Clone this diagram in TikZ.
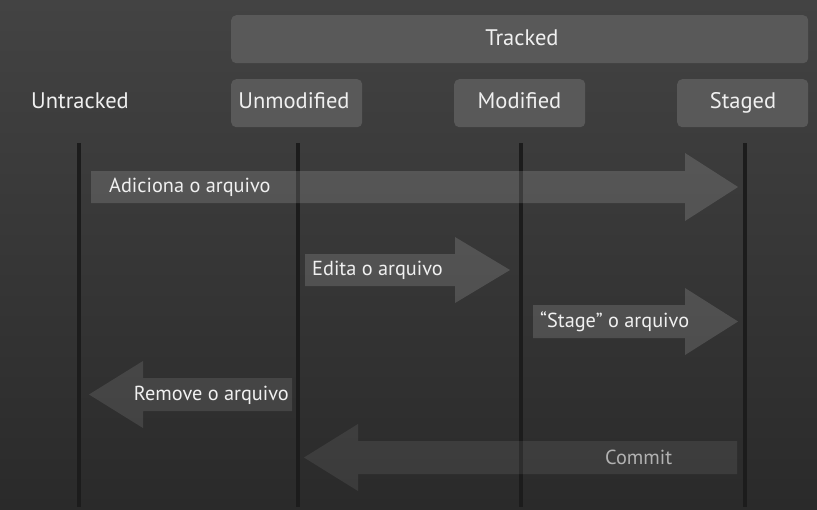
\documentclass[tikz,border=0pt]{standalone}
\usepackage{fontspec}
\setmainfont{PT Sans}
\begin{document}
\begin{tikzpicture}[x=1pt,y=-1pt,
  label/.style={text=white!94!black,font=\fontsize{22.5}{26}\selectfont,inner sep=0pt},
  arrowlabel/.style={label,font=\fontsize{20.3}{24}\selectfont},
  statebox/.style={fill=boxgray,rounded corners=5pt,minimum height=48pt,inner sep=0pt},
  lifeline/.style={draw=lineblack,line width=4pt},
  blockarrow/.style={fill=white,draw=none}]
\definecolor{bgtop}{HTML}{434343}
\definecolor{bgbottom}{HTML}{2A2A2A}
\definecolor{boxgray}{HTML}{595959}
\definecolor{lineblack}{HTML}{1C1C1C}
% background
\shade[top color=bgtop,bottom color=bgbottom] (0,0) rectangle (817,509);
\useasboundingbox (0,0) rectangle (817,509);

% state boxes
\node[statebox,minimum width=577pt,anchor=north west] (tracked) at (231,15) {};
\node[label,anchor=base] (trackedlbl) at (522,45) {Tracked};
\node[statebox,minimum width=131pt,anchor=north west] (unmod) at (231,79) {};
\node[statebox,minimum width=131pt,anchor=north west] (mod) at (454,79) {};
\node[statebox,minimum width=131pt,anchor=north west] (staged) at (677,79) {};
\node[label,anchor=base] (untrackedlbl) at (80,108.5) {Untracked};
\node[label,anchor=base] (unmodlbl) at (294,108.5) {Unmodified};
\node[label,anchor=base] (modlbl) at (519.5,108.5) {Modified};
\node[label,anchor=base] (stagedlbl) at (743,108.5) {Staged};

% lifelines
\coordinate (u0) at (79,143);  \coordinate (u1) at (79,507);
\coordinate (n0) at (298,143); \coordinate (n1) at (298,507);
\coordinate (m0) at (521,143); \coordinate (m1) at (521,507);
\coordinate (s0) at (745,143); \coordinate (s1) at (745,507);
\draw[lifeline] (u0) -- (u1);
\draw[lifeline] (n0) -- (n1);
\draw[lifeline] (m0) -- (m1);
\draw[lifeline] (s0) -- (s1);

% transition arrows
\fill[blockarrow,fill opacity=0.14] (91,171)--(685,171)--(685,153)--(738,187)--(685,221)--(685,203)--(91,203)--cycle;
\node[arrowlabel,anchor=base west] (add) at (109,192.5) {Adiciona o arquivo};

\fill[blockarrow,fill opacity=0.14] (305,254)--(455,254)--(455,237)--(510,270)--(455,303)--(455,286)--(305,286)--cycle;
\node[arrowlabel,anchor=base west] (edit) at (312,275.5) {Edita o arquivo};

\fill[blockarrow,fill opacity=0.14] (533,305)--(685,305)--(685,288)--(738,321.5)--(685,355)--(685,338)--(533,338)--cycle;
\node[arrowlabel,anchor=base west] (stage) at (540,327.5) {“Stage” o arquivo};

\fill[blockarrow,fill opacity=0.10] (292,378)--(143,378)--(143,361)--(89,394.5)--(143,428)--(143,411)--(292,411)--cycle;
\node[arrowlabel,anchor=base east] (remove) at (289,400) {Remove o arquivo};

\fill[blockarrow,fill opacity=0.08] (737,441)--(358,441)--(358,424)--(304,457.5)--(358,491)--(358,474)--(737,474)--cycle;
\node[arrowlabel,anchor=base west,text=white!70!black] (commit) at (605,464) {Commit};
\end{tikzpicture}
\end{document}
